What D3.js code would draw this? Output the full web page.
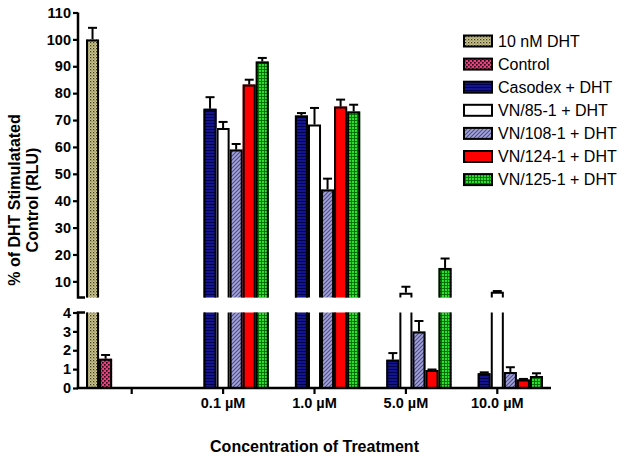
<!DOCTYPE html>
<html>
<head>
<meta charset="utf-8">
<script src="https://cdn.jsdelivr.net/npm/d3@7"></script>
<style>
  body { margin: 0; background: #fff; }
  svg { font-family: "Liberation Sans", Arial, sans-serif; }
  .tick text { font-weight: bold; font-size: 14.5px; fill: #000; }
</style>
</head>
<body>
<svg id="chart" width="624" height="456"></svg>
<script>
// groups on the x axis (first one has no label)
var groups = ["", "0.1 \u00b5M", "1.0 \u00b5M", "5.0 \u00b5M", "10.0 \u00b5M"]
var series = ["10 nM DHT", "Control", "Casodex + DHT", "VN/85-1 + DHT", "VN/108-1 + DHT", "VN/124-1 + DHT", "VN/125-1 + DHT"]

// values (% of DHT stimulated control) and upper SEM, one per group
var dhtVals     = [100, null, null, null, null]
var dhtErr      = [4.3, null, null, null, null]
var controlVals = [1.55, null, null, null, null]
var controlErr  = [0.2, null, null, null, null]
var casodexVals = [null, 74.2, 71.7, 1.5, 0.78]
var casodexErr  = [null, 4.3, 0.9, 0.35, 0.05]
var vn85Vals    = [null, 67, 68.3, 5.8, 6.1]
var vn85Err     = [null, 2.3, 6.2, 2.2, 0.3]
var vn108Vals   = [null, 59, 44.2, 3.0, 0.85]
var vn108Err    = [null, 2.1, 4.0, 0.55, 0.25]
var vn124Vals   = [null, 83.2, 75, 0.95, 0.45]
var vn124Err    = [null, 1.8, 2.6, 0.03, 0.03]
var vn125Vals   = [null, 91.8, 73.2, 15, 0.63]
var vn125Err    = [null, 1.3, 2.5, 3.5, 0.15]

var upperTicks = [10, 20, 30, 40, 50, 60, 70, 80, 90, 100, 110]
var lowerTicks = [0, 1, 2, 3, 4]

var allVals = [dhtVals, controlVals, casodexVals, vn85Vals, vn108Vals, vn124Vals, vn125Vals]
var allErr  = [dhtErr, controlErr, casodexErr, vn85Err, vn108Err, vn124Err, vn125Err]
var fills = ["url(#pDht)", "url(#pCtrl)", "url(#pCaso)", "#ffffff", "url(#pV108)", "#ff0000", "url(#pV125)"]

var svg = d3.select("#chart")
var defs = svg.append("defs")

// patterns for the bar fills
var p = defs.append("pattern").attr("id", "pDht").attr("patternUnits", "userSpaceOnUse").attr("width", 3).attr("height", 3)
p.append("rect").attr("width", 3).attr("height", 3).attr("fill", "#cfc98f")
p.append("rect").attr("width", 1.3).attr("height", 1.3).attr("fill", "#3e3a24")
p.append("rect").attr("x", 1.5).attr("y", 1.5).attr("width", 1.1).attr("height", 1.1).attr("fill", "#6e6948")

p = defs.append("pattern").attr("id", "pCtrl").attr("patternUnits", "userSpaceOnUse").attr("width", 4).attr("height", 4)
p.append("rect").attr("width", 4).attr("height", 4).attr("fill", "#f03c7c")
p.append("rect").attr("width", 1.6).attr("height", 1.6).attr("fill", "#200010")
p.append("rect").attr("x", 2).attr("y", 2).attr("width", 1.6).attr("height", 1.6).attr("fill", "#200010")

p = defs.append("pattern").attr("id", "pCaso").attr("patternUnits", "userSpaceOnUse").attr("width", 3).attr("height", 3)
p.append("rect").attr("width", 3).attr("height", 3).attr("fill", "#14148e")
p.append("rect").attr("width", 3).attr("height", 1).attr("fill", "#000050")

p = defs.append("pattern").attr("id", "pV108").attr("patternUnits", "userSpaceOnUse").attr("width", 4).attr("height", 4)
p.append("rect").attr("width", 4).attr("height", 4).attr("fill", "#a4a4d8")
p.append("path").attr("d", "M-1,1L1,-1M0,4L4,0M3,5L5,3").attr("stroke", "#4c4c8c").attr("stroke-width", 1.1)

p = defs.append("pattern").attr("id", "pV125").attr("patternUnits", "userSpaceOnUse").attr("width", 3).attr("height", 3)
p.append("rect").attr("width", 3).attr("height", 3).attr("fill", "#2ee02e")
p.append("rect").attr("width", 3).attr("height", 0.9).attr("fill", "#006a00")
p.append("rect").attr("width", 0.9).attr("height", 3).attr("fill", "#006a00")

// scales: broken y axis with two segments
var yUp = d3.scaleLinear().domain([4, 110]).range([297.5, 12.5])
var yLo = d3.scaleLinear().domain([0, 4]).range([388, 312.5])
var x0 = d3.scaleBand().domain(groups).range([86, 543]).paddingInner(0)
var x1 = d3.scaleBand().domain(series).range([0, x0.bandwidth()])

function yOf(v) { return v > 4 ? yUp(v) : yLo(v) }

// bars
var bars = []
series.forEach(function (s, i) {
  groups.forEach(function (g, j) {
    if (allVals[i][j] != null) bars.push({ s: s, i: i, g: g, v: allVals[i][j], e: allErr[i][j] })
  })
})

var barG = svg.append("g")
bars.forEach(function (d) {
  var bx = x0(d.g) + x1(d.s)
  var bw = x1.bandwidth()
  var pieces = []
  if (d.v > 4) {
    pieces.push({ top: yLo(4), bot: yLo(0), open: "top" })
    pieces.push({ top: yUp(d.v), bot: yUp(4), open: "bottom" })
  } else {
    pieces.push({ top: yLo(d.v), bot: yLo(0), open: "none" })
  }
  pieces.forEach(function (pc) {
    barG.append("rect")
      .attr("x", bx).attr("y", pc.top)
      .attr("width", bw).attr("height", pc.bot - pc.top)
      .attr("fill", fills[d.i])
    var l = bx + 1, r = bx + bw - 1
    var path
    if (pc.open == "top") path = "M" + l + "," + pc.top + "V" + pc.bot + "H" + r + "V" + pc.top
    else if (pc.open == "bottom") path = "M" + l + "," + pc.bot + "V" + (pc.top + 1) + "H" + r + "V" + pc.bot
    else path = "M" + l + "," + pc.bot + "V" + (pc.top + 1) + "H" + r + "V" + pc.bot + "Z"
    barG.append("path").attr("d", path).attr("fill", "none")
      .attr("stroke", "#000").attr("stroke-width", 2)
  })
  // upper error bar
  var cx = bx + bw / 2
  var yt = yOf(d.v), ye = yOf(d.v + d.e)
  if (yt - ye > 0.5) {
    barG.append("line").attr("x1", cx).attr("x2", cx).attr("y1", yt).attr("y2", ye)
      .attr("stroke", "#000").attr("stroke-width", 2)
    barG.append("line").attr("x1", cx - 4.5).attr("x2", cx + 4.5).attr("y1", ye).attr("y2", ye)
      .attr("stroke", "#000").attr("stroke-width", 2)
  }
})

// y axes
var axUp = svg.append("g").attr("transform", "translate(78,0)")
  .call(d3.axisLeft(yUp).tickValues(upperTicks).tickFormat(d3.format("d")).tickSize(5).tickSizeOuter(0))
var axLo = svg.append("g").attr("transform", "translate(78,0)")
  .call(d3.axisLeft(yLo).tickValues(lowerTicks).tickFormat(d3.format("d")).tickSize(5).tickSizeOuter(0))
;[axUp, axLo].forEach(function (a) {
  a.select(".domain").remove()
  a.selectAll(".tick line").attr("stroke-width", 2.2)
  a.selectAll(".tick text").attr("x", -7)
})
svg.append("path").attr("d", "M78,12.5V297.5H85").attr("fill", "none").attr("stroke", "#000").attr("stroke-width", 2.5)
svg.append("path").attr("d", "M85,312.5H78V388").attr("fill", "none").attr("stroke", "#000").attr("stroke-width", 2.5)

// x axis
var axX = svg.append("g").attr("transform", "translate(0,388)")
  .call(d3.axisBottom(x0).tickSize(6).tickSizeOuter(0))
axX.select(".domain").remove()
axX.selectAll(".tick line").attr("stroke-width", 2.2)
axX.selectAll(".tick text").attr("y", 10)
svg.append("line").attr("x1", 76.8).attr("x2", 551).attr("y1", 388).attr("y2", 388)
  .attr("stroke", "#000").attr("stroke-width", 2.5)

// axis titles
svg.append("text").attr("x", 314.5).attr("y", 452)
  .attr("text-anchor", "middle").attr("font-weight", "bold").attr("font-size", 16)
  .text("Concentration of Treatment")
var yt = svg.append("text").attr("transform", "translate(20,200) rotate(-90)")
  .attr("text-anchor", "middle").attr("font-weight", "bold").attr("font-size", 16)
yt.append("tspan").attr("x", 0).attr("y", 0).text("% of DHT Stimulatated")
yt.append("tspan").attr("x", 0).attr("y", 18).text("Control (RLU)")

// legend
var leg = svg.append("g")
series.forEach(function (s, i) {
  var cy = 41 + i * 23.1
  leg.append("rect").attr("x", 464).attr("y", cy - 5.5).attr("width", 28).attr("height", 11)
    .attr("fill", fills[i]).attr("stroke", "#000").attr("stroke-width", 2)
  leg.append("text").attr("x", 498).attr("y", cy).attr("dy", "0.35em")
    .attr("font-size", 16).text(s)
})
</script>
</body>
</html>
